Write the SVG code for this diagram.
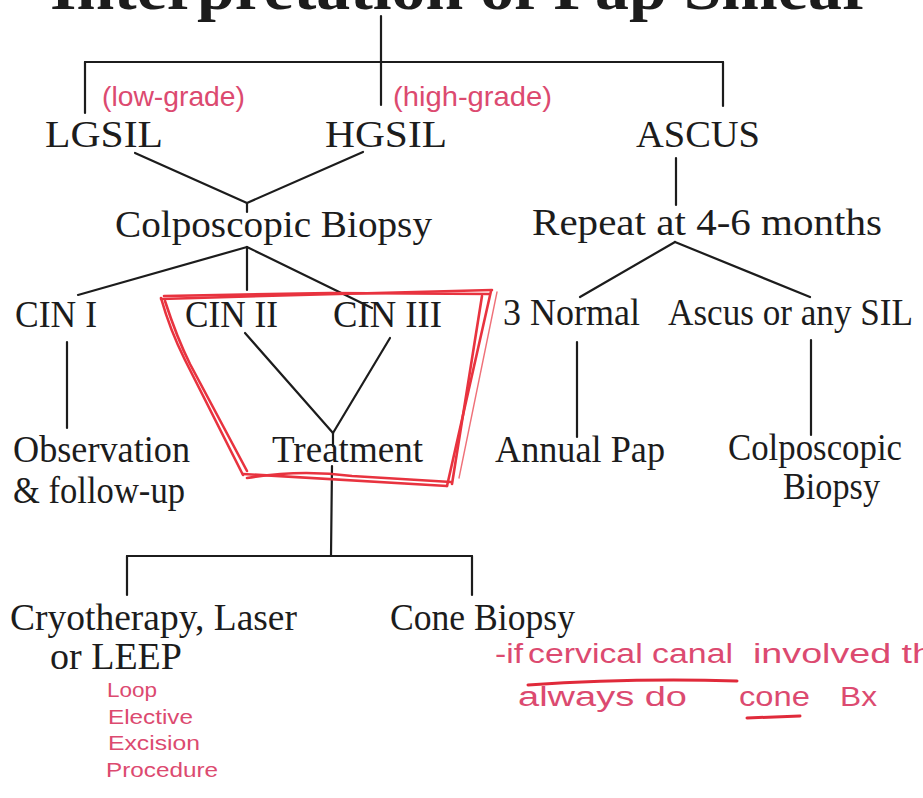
<svg xmlns="http://www.w3.org/2000/svg" width="923" height="798" viewBox="0 0 923 798">
<style>
.t{font-family:"Liberation Serif","Times New Roman",serif;font-size:38px;fill:#1c1c1c;}
.ttl{font-family:"Liberation Serif","Times New Roman",serif;font-size:62px;font-weight:bold;fill:#1c1c1c;}
.c line,.c path{stroke:#1c1c1c;stroke-width:2.2;fill:none;stroke-linecap:round;}
.h{font-family:"Liberation Sans",Arial,sans-serif;fill:#dc4a70;}
.box path{stroke:#e8333f;stroke-width:2.6;fill:none;stroke-linecap:round;stroke-linejoin:round;}
.ul{stroke:#e02a3a;stroke-width:3;fill:none;stroke-linecap:round;}
</style>
<rect width="923" height="798" fill="#ffffff"/>
<g id="title"><text class="ttl" x="50" y="9" textLength="822" lengthAdjust="spacingAndGlyphs">Interpretation of Pap Smear</text></g>
<g id="connectors" class="c">
<line x1="381" y1="16" x2="381" y2="105"/>
<line x1="85" y1="62" x2="723" y2="62"/>
<line x1="85" y1="62" x2="85" y2="113"/>
<line x1="723" y1="62" x2="723" y2="106"/>
<line x1="135" y1="153" x2="247" y2="203"/>
<line x1="363" y1="152" x2="247" y2="203"/>
<line x1="247" y1="203" x2="247" y2="212"/>
<line x1="676" y1="158" x2="676" y2="205"/>
<line x1="247" y1="247" x2="78" y2="295"/>
<line x1="247" y1="247" x2="247" y2="290"/>
<line x1="247" y1="247" x2="372" y2="308"/>
<line x1="675" y1="242" x2="580" y2="297"/>
<line x1="675" y1="242" x2="810" y2="297"/>
<line x1="67" y1="342" x2="67" y2="428"/>
<line x1="245" y1="333" x2="333" y2="433"/>
<line x1="390" y1="338" x2="333" y2="433"/>
<line x1="333" y1="433" x2="333" y2="446"/>
<line x1="577" y1="342" x2="577" y2="437"/>
<line x1="811" y1="340" x2="811" y2="435"/>
<line x1="332" y1="466" x2="331" y2="556"/>
<line x1="127" y1="556" x2="472" y2="556"/>
<line x1="127" y1="556" x2="127" y2="595"/>
<line x1="472" y1="556" x2="472" y2="595"/>
</g>
<g id="lgsil"><text class="t" x="45" y="147" textLength="118" lengthAdjust="spacingAndGlyphs">LGSIL</text></g>
<g id="hgsil"><text class="t" x="325" y="147" textLength="122" lengthAdjust="spacingAndGlyphs">HGSIL</text></g>
<g id="ascus"><text class="t" x="636" y="147" textLength="124" lengthAdjust="spacingAndGlyphs">ASCUS</text></g>
<g id="colpo-biopsy"><text class="t" x="115" y="237" textLength="317" lengthAdjust="spacingAndGlyphs">Colposcopic Biopsy</text></g>
<g id="repeat"><text class="t" x="532" y="235" textLength="350" lengthAdjust="spacingAndGlyphs">Repeat at 4-6 months</text></g>
<g id="cin1"><text class="t" x="15" y="327" textLength="82" lengthAdjust="spacingAndGlyphs">CIN I</text></g>
<g id="cin2"><text class="t" x="185" y="327" textLength="93" lengthAdjust="spacingAndGlyphs">CIN II</text></g>
<g id="cin3"><text class="t" x="333" y="327" textLength="109" lengthAdjust="spacingAndGlyphs">CIN III</text></g>
<g id="normal"><text class="t" x="503" y="325" textLength="137" lengthAdjust="spacingAndGlyphs">3 Normal</text></g>
<g id="ascus-sil"><text class="t" x="668" y="325" textLength="245" lengthAdjust="spacingAndGlyphs">Ascus or any SIL</text></g>
<g id="observation"><text class="t" x="13" y="462" textLength="177" lengthAdjust="spacingAndGlyphs">Observation</text><text class="t" x="13" y="503" textLength="172" lengthAdjust="spacingAndGlyphs">&amp; follow-up</text></g>
<g id="treatment"><text class="t" x="272" y="462" textLength="151" lengthAdjust="spacingAndGlyphs">Treatment</text></g>
<g id="annual-pap"><text class="t" x="495" y="462" textLength="170" lengthAdjust="spacingAndGlyphs">Annual Pap</text></g>
<g id="colpo-biopsy-2"><text class="t" x="728" y="460" textLength="174" lengthAdjust="spacingAndGlyphs">Colposcopic</text><text class="t" x="783" y="499" textLength="97" lengthAdjust="spacingAndGlyphs">Biopsy</text></g>
<g id="cryo"><text class="t" x="10" y="630" textLength="287" lengthAdjust="spacingAndGlyphs">Cryotherapy, Laser</text><text class="t" x="50" y="669" textLength="132" lengthAdjust="spacingAndGlyphs">or LEEP</text></g>
<g id="cone"><text class="t" x="390" y="630" textLength="185" lengthAdjust="spacingAndGlyphs">Cone Biopsy</text></g>
<g id="red-box" class="box">
<path d="M161,299 L300,295 L492,290"/>
<path d="M164,296 L330,293 L489,294"/>
<path d="M161,298 Q170,330 185,360 L243,475"/>
<path d="M165,301 Q177,338 190,364 L247,471"/>
<path d="M243,474 L447,486"/>
<path d="M247,478 Q300,469 352,476 L451,482"/>
<path d="M491,291 L447,486"/>
<path d="M482,296 L452,484"/>
<path d="M497,292 L459,478" style="stroke-width:1.4;opacity:0.7"/>
</g>
<g id="annotations" class="h">
<text x="102" y="106" font-size="28" textLength="143" lengthAdjust="spacingAndGlyphs">(low-grade)</text>
<text x="393" y="106" font-size="28" textLength="159" lengthAdjust="spacingAndGlyphs">(high-grade)</text>
<text x="495" y="663" font-size="27" textLength="28" lengthAdjust="spacingAndGlyphs">-if</text>
<text x="528" y="663" font-size="27" textLength="205" lengthAdjust="spacingAndGlyphs">cervical canal</text>
<text x="753" y="663" font-size="27" textLength="180" lengthAdjust="spacingAndGlyphs">involved th</text>
<path class="ul" d="M528,685 Q630,678 737,681"/>
<text x="518" y="706" font-size="27" textLength="169" lengthAdjust="spacingAndGlyphs">always do</text>
<text x="739" y="706" font-size="27" textLength="71" lengthAdjust="spacingAndGlyphs">cone</text>
<text x="840" y="706" font-size="27" textLength="37" lengthAdjust="spacingAndGlyphs">Bx</text>
<path class="ul" d="M747,718 L800,716"/>
<text x="107" y="697" font-size="21" textLength="50" lengthAdjust="spacingAndGlyphs">Loop</text>
<text x="108" y="724" font-size="21" textLength="85" lengthAdjust="spacingAndGlyphs">Elective</text>
<text x="108" y="750" font-size="21" textLength="92" lengthAdjust="spacingAndGlyphs">Excision</text>
<text x="106" y="777" font-size="21" textLength="112" lengthAdjust="spacingAndGlyphs">Procedure</text>
</g>
</svg>
